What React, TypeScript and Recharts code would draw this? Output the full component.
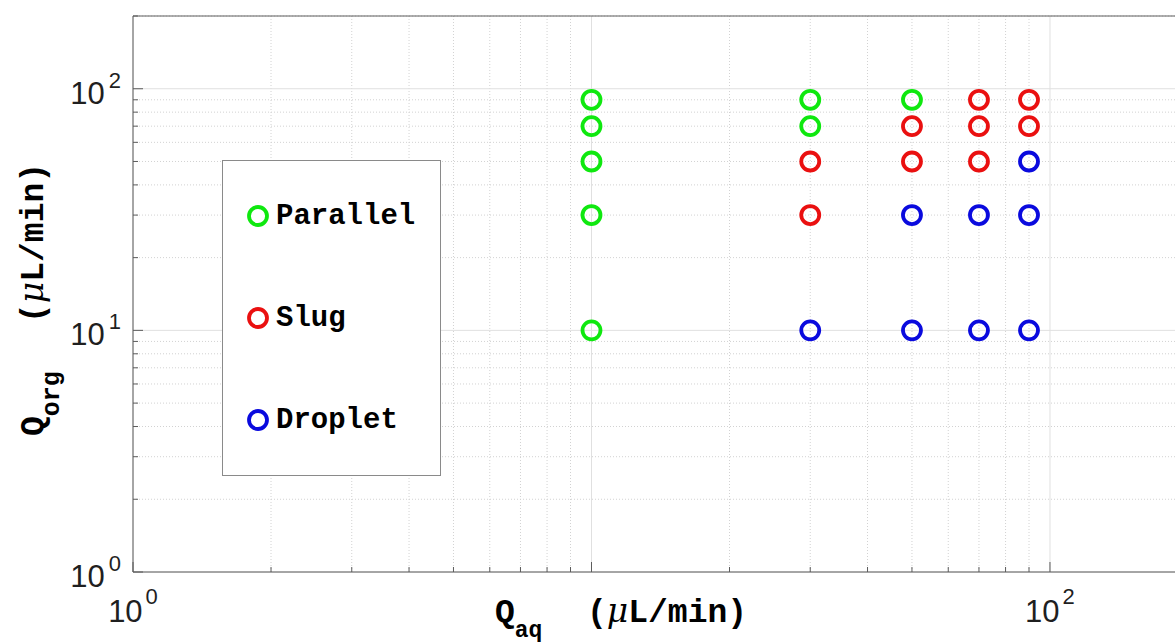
import { ScatterChart, Scatter, XAxis, YAxis, ReferenceLine, Legend } from 'recharts'

// Q_aq / Q_org pairs (µL/min) for each flow regime
const parallelQaq = [10, 10, 10, 10, 10, 30, 30, 50]
const parallelQorg = [10, 30, 50, 70, 90, 70, 90, 90]
const slugQaq = [30, 30, 50, 50, 70, 70, 70, 90, 90]
const slugQorg = [30, 50, 50, 70, 50, 70, 90, 70, 90]
const dropletQaq = [30, 50, 50, 70, 70, 90, 90, 90]
const dropletQorg = [10, 10, 30, 10, 30, 10, 30, 50]

const majorTicks = [1, 10, 100]
const minorTicks = [2, 3, 4, 5, 6, 7, 8, 9, 20, 30, 40, 50, 60, 70, 80, 90, 200]
const xTickLabels = [1, 100]
const yTickLabels = [1, 10, 100]
const axisDomain = [1, 200]

const allTicks = [...majorTicks, ...minorTicks].sort((a, b) => a - b)

const toPoints = (xs: number[], ys: number[]) => xs.map((x, i) => ({ qaq: x, qorg: ys[i] }))

const series = [
  { name: 'Parallel', color: '#0fe80f', data: toPoints(parallelQaq, parallelQorg) },
  { name: 'Slug', color: '#ea1010', data: toPoints(slugQaq, slugQorg) },
  { name: 'Droplet', color: '#0a0ade', data: toPoints(dropletQaq, dropletQorg) },
]

const axisColor = '#5c5c5c'
const tickFont = '"Liberation Sans", Arial, sans-serif'
const monoFont = '"Liberation Mono", "Courier New", monospace'

const isMajor = (v: number) => majorTicks.includes(v)
const exponent = (v: number) => Math.round(Math.log10(v))

function BottomTick(props: any) {
  const { x, y, payload } = props
  const v = payload.value
  return (
    <g>
      <line x1={x} x2={x} y1={y} y2={y - (isMajor(v) ? 10 : 5)} stroke={axisColor} />
      {xTickLabels.includes(v) && (
        <text x={x} y={y + 50} textAnchor="middle" fontFamily={tickFont} fill="#1f1f1f">
          <tspan fontSize={31}>10</tspan>
          <tspan fontSize={22} dx={3} dy={-18}>{exponent(v)}</tspan>
        </text>
      )}
    </g>
  )
}

function TopTick(props: any) {
  const { x, y, payload } = props
  const v = payload.value
  return <line x1={x} x2={x} y1={y} y2={y + (isMajor(v) ? 10 : 5)} stroke={axisColor} />
}

function LeftTick(props: any) {
  const { x, y, payload } = props
  const v = payload.value
  return (
    <g>
      <line x1={x} x2={x + (isMajor(v) ? 10 : 5)} y1={y} y2={y} stroke={axisColor} />
      {yTickLabels.includes(v) && (
        <text x={x - 12} y={y + 15} textAnchor="end" fontFamily={tickFont} fill="#1f1f1f">
          <tspan fontSize={31}>10</tspan>
          <tspan fontSize={22} dx={4} dy={-16}>{exponent(v)}</tspan>
        </text>
      )}
    </g>
  )
}

function XTitle(props: any) {
  const vb = props.viewBox
  return (
    <text x={vb.x + 362} y={vb.y + 50} fontFamily={monoFont} fontWeight="bold" fontSize={33} fill="#000">
      <tspan>Q</tspan>
      <tspan fontSize={23} dy={15}>aq</tspan>
      <tspan x={vb.x + 454} dy={-15}>(</tspan>
      <tspan fontFamily='"DejaVu Serif", serif' fontStyle="italic" fontWeight="normal">μ</tspan>
      <tspan>L/min)</tspan>
    </text>
  )
}

function YTitle() {
  const px = 43
  const py = 436
  return (
    <text
      x={px}
      y={py}
      transform={`rotate(-90, ${px}, ${py})`}
      fontFamily={monoFont}
      fontWeight="bold"
      fontSize={33}
      fill="#000"
    >
      <tspan>Q</tspan>
      <tspan fontSize={25} dy={16}>org</tspan>
      <tspan x={px + 113} dy={-16}>(</tspan>
      <tspan fontFamily='"DejaVu Serif", serif' fontStyle="italic" fontWeight="normal">μ</tspan>
      <tspan>L/min)</tspan>
    </text>
  )
}

const ring = (color: string) => (props: any) => (
  <circle cx={props.cx} cy={props.cy} r={9} fill="none" stroke={color} strokeWidth={3.8} />
)

function LegendBox() {
  return (
    <div
      style={{
        width: 217,
        height: 310,
        border: '1px solid #8a8a8a',
        background: '#fff',
        paddingTop: 4,
        boxSizing: 'content-box',
      }}
    >
      {series.map((s) => (
        <div key={s.name} style={{ height: 102, display: 'flex', alignItems: 'center' }}>
          <svg width={24} height={24} style={{ marginLeft: 23, marginRight: 6 }}>
            <circle cx={12} cy={12} r={9} fill="none" stroke={s.color} strokeWidth={3.8} />
          </svg>
          <span style={{ fontFamily: monoFont, fontWeight: 'bold', fontSize: 29, color: '#000' }}>{s.name}</span>
        </div>
      ))}
    </div>
  )
}

export default function App() {
  return (
    <div style={{ position: 'absolute', left: 0, top: 0, width: 1175, height: 644, overflow: 'hidden', background: '#fff' }}>
      <ScatterChart width={1200} height={644} margin={{ top: 0, right: 12, bottom: 0, left: 0 }}>
        {minorTicks.map((t) => (
          <ReferenceLine key={`vx${t}`} x={t} stroke="#d2d2d2" strokeDasharray="1 2" />
        ))}
        {minorTicks.map((t) => (
          <ReferenceLine key={`hy${t}`} y={t} stroke="#d2d2d2" strokeDasharray="1 2" />
        ))}
        {majorTicks.map((t) => (
          <ReferenceLine key={`VX${t}`} x={t} stroke="#e0e0e0" />
        ))}
        {majorTicks.map((t) => (
          <ReferenceLine key={`HY${t}`} y={t} stroke="#e0e0e0" />
        ))}
        <XAxis
          dataKey="qaq"
          type="number"
          scale="log"
          domain={axisDomain}
          ticks={allTicks}
          interval={0}
          tickSize={0}
          tickMargin={0}
          height={72}
          axisLine={{ stroke: axisColor }}
          tick={(p: any) => <BottomTick {...p} />}
          label={{ content: (p: any) => <XTitle {...p} /> }}
        />
        <XAxis
          xAxisId="top"
          orientation="top"
          type="number"
          scale="log"
          domain={axisDomain}
          ticks={allTicks}
          interval={0}
          tickSize={0}
          tickMargin={0}
          height={16}
          axisLine={{ stroke: axisColor }}
          tick={(p: any) => <TopTick {...p} />}
        />
        <YAxis
          dataKey="qorg"
          type="number"
          scale="log"
          domain={axisDomain}
          ticks={allTicks}
          interval={0}
          tickSize={0}
          tickMargin={0}
          width={133}
          axisLine={{ stroke: axisColor }}
          tick={(p: any) => <LeftTick {...p} />}
          label={{ content: () => <YTitle /> }}
        />
        <Legend
          layout="vertical"
          align="center"
          verticalAlign="middle"
          wrapperStyle={{ left: 222, top: 160, width: 219, height: 316 }}
          content={() => <LegendBox />}
        />
        {series.map((s) => (
          <Scatter
            key={s.name}
            name={s.name}
            data={s.data}
            fill={s.color}
            shape={ring(s.color)}
            isAnimationActive={false}
          />
        ))}
      </ScatterChart>
    </div>
  )
}
